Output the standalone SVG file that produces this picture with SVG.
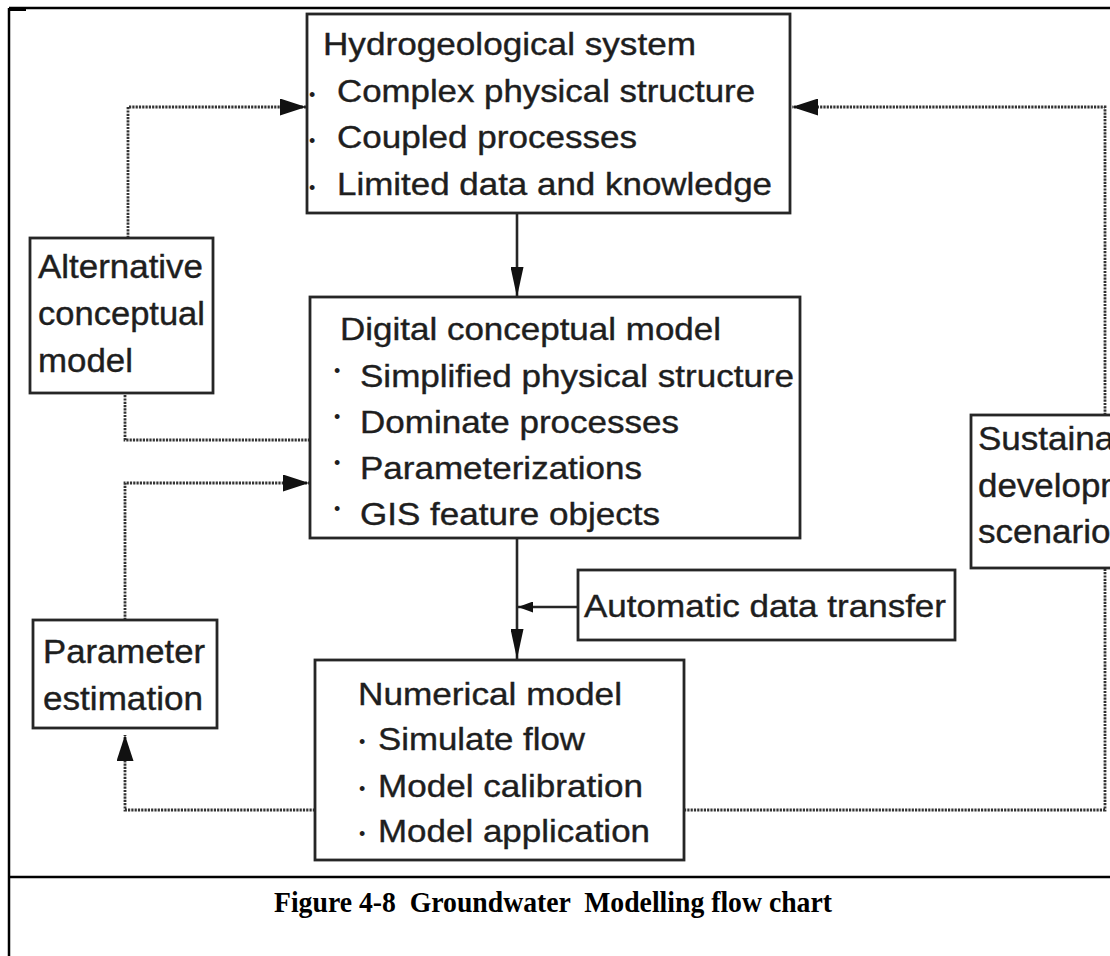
<svg xmlns="http://www.w3.org/2000/svg" width="1110" height="956" viewBox="0 0 1110 956">
<style>
.box{fill:#fff;stroke:#262626;stroke-width:2.8}
.t{font-family:"Liberation Sans",Arial,Helvetica,sans-serif;font-size:32px;fill:#1e1e1e;stroke:#1e1e1e;stroke-width:0.4}
.ts{font-family:"Liberation Sans",Arial,Helvetica,sans-serif;font-size:33px;fill:#1e1e1e;stroke:#1e1e1e;stroke-width:0.4}
.b{font-family:"Liberation Sans",Arial,Helvetica,sans-serif;font-size:18px;fill:#1e1e1e}
.solid{fill:none;stroke:#262626;stroke-width:2.6}
.dot{fill:none;stroke:#333;stroke-width:2.8;stroke-dasharray:2.2 1.1}
.frame{stroke:#000;stroke-width:2.5;fill:none}
.cap{font-family:"Liberation Serif","Times New Roman",serif;font-size:29px;font-weight:bold;fill:#000}
</style>
<defs>
<marker id="hd" markerUnits="userSpaceOnUse" markerWidth="26" markerHeight="17" refX="26" refY="8.5" orient="auto"><path d="M0,0 L26,8.5 L0,17 z" fill="#111"/></marker>
<marker id="hs" markerUnits="userSpaceOnUse" markerWidth="30" markerHeight="13" refX="30" refY="6.5" orient="auto"><path d="M0,0 L30,6.5 L0,13 z" fill="#111"/></marker>
<marker id="ha" markerUnits="userSpaceOnUse" markerWidth="15" markerHeight="11" refX="15" refY="5.5" orient="auto"><path d="M0,0 L15,5.5 L0,11 z" fill="#111"/></marker>
</defs>
<g id="frame">
<line class="frame" x1="9" y1="8" x2="1110" y2="8"/>
<line class="frame" x1="9" y1="8" x2="9" y2="956"/>
<line class="frame" x1="9" y1="877" x2="1110" y2="877"/>
<rect x="9" y="8" width="17" height="3" fill="#000"/>
</g>
<g id="connectors">
<line class="solid" x1="517" y1="213" x2="517" y2="297" marker-end="url(#hs)"/>
<line class="solid" x1="517" y1="538" x2="517" y2="659" marker-end="url(#hs)"/>
<line class="solid" x1="578" y1="607" x2="518" y2="607" marker-end="url(#ha)"/>
<path class="dot" d="M128,238 V107 H306" marker-end="url(#hd)"/>
<path class="dot" d="M310,440 H125 V393"/>
<path class="dot" d="M315,810 H125 V735" marker-end="url(#hd)"/>
<path class="dot" d="M125,620 V483 H309" marker-end="url(#hd)"/>
<path class="dot" d="M684,810 H1105 V568"/>
<path class="dot" d="M1105,415 V107 H792" marker-end="url(#hd)"/>
</g>
<g id="hydro">
<rect class="box" x="307" y="14" width="483" height="199"/>
<text class="t" x="323" y="55" textLength="373" lengthAdjust="spacingAndGlyphs">Hydrogeological system</text>
<text class="b" x="309" y="101">•</text>
<text class="t" x="337" y="102" textLength="418" lengthAdjust="spacingAndGlyphs">Complex physical structure</text>
<text class="b" x="309" y="147">•</text>
<text class="t" x="337" y="148" textLength="300" lengthAdjust="spacingAndGlyphs">Coupled processes</text>
<text class="b" x="309" y="194">•</text>
<text class="t" x="337" y="195" textLength="435" lengthAdjust="spacingAndGlyphs">Limited data and knowledge</text>
</g>
<g id="alternative">
<rect class="box" x="30" y="238" width="183" height="155"/>
<text class="ts" x="38" y="278" textLength="165" lengthAdjust="spacingAndGlyphs">Alternative</text>
<text class="ts" x="38" y="325" textLength="167" lengthAdjust="spacingAndGlyphs">conceptual</text>
<text class="ts" x="38" y="372" textLength="95" lengthAdjust="spacingAndGlyphs">model</text>
</g>
<g id="digital">
<rect class="box" x="310" y="297" width="490" height="241"/>
<text class="t" x="340" y="340" textLength="381" lengthAdjust="spacingAndGlyphs">Digital conceptual model</text>
<text class="b" x="334" y="377">•</text>
<text class="t" x="360" y="387" textLength="434" lengthAdjust="spacingAndGlyphs">Simplified physical structure</text>
<text class="b" x="334" y="423">•</text>
<text class="t" x="360" y="433" textLength="319" lengthAdjust="spacingAndGlyphs">Dominate processes</text>
<text class="b" x="334" y="469">•</text>
<text class="t" x="360" y="479" textLength="282" lengthAdjust="spacingAndGlyphs">Parameterizations</text>
<text class="b" x="334" y="515">•</text>
<text class="t" x="360" y="525" textLength="300" lengthAdjust="spacingAndGlyphs">GIS feature objects</text>
</g>
<g id="automatic">
<rect class="box" x="578" y="570" width="377" height="70"/>
<text class="t" x="584" y="617" textLength="362" lengthAdjust="spacingAndGlyphs">Automatic data transfer</text>
</g>
<g id="parameter">
<rect class="box" x="33" y="620" width="184" height="108"/>
<text class="ts" x="43" y="663" textLength="162" lengthAdjust="spacingAndGlyphs">Parameter</text>
<text class="ts" x="43" y="710" textLength="160" lengthAdjust="spacingAndGlyphs">estimation</text>
</g>
<g id="numerical">
<rect class="box" x="315" y="660" width="369" height="200"/>
<text class="t" x="358" y="705" textLength="264" lengthAdjust="spacingAndGlyphs">Numerical model</text>
<text class="b" x="359" y="748">•</text>
<text class="t" x="378" y="750" textLength="207" lengthAdjust="spacingAndGlyphs">Simulate flow</text>
<text class="b" x="359" y="795">•</text>
<text class="t" x="378" y="797" textLength="265" lengthAdjust="spacingAndGlyphs">Model calibration</text>
<text class="b" x="359" y="840">•</text>
<text class="t" x="378" y="842" textLength="272" lengthAdjust="spacingAndGlyphs">Model application</text>
</g>
<g id="sustainable">
<rect class="box" x="971" y="415" width="160" height="153"/>
<text class="ts" x="978" y="450" textLength="183" lengthAdjust="spacingAndGlyphs">Sustainable</text>
<text class="ts" x="978" y="497" textLength="200" lengthAdjust="spacingAndGlyphs">development</text>
<text class="ts" x="978" y="543" textLength="150" lengthAdjust="spacingAndGlyphs">scenarios</text>
</g>
<g id="caption">
<text class="cap" x="553" y="912" text-anchor="middle" xml:space="preserve" textLength="558" lengthAdjust="spacingAndGlyphs">Figure 4-8  Groundwater  Modelling flow chart</text>
</g>
</svg>
